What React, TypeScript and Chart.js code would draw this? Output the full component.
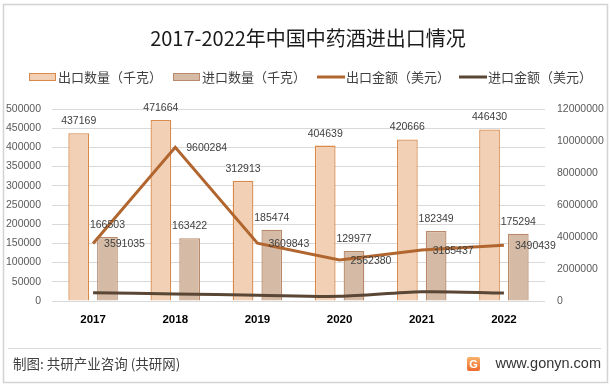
import React, { useEffect, useRef } from "react";
import { Chart, registerables } from "chart.js";

Chart.register(...registerables);

const categories = ["2017", "2018", "2019", "2020", "2021", "2022"];
const exportQty = [437169, 471664, 312913, 404639, 420666, 446430];
const importQty = [166503, 163422, 185474, 129977, 182349, 175294];
const exportValue = [3591035, 9600284, 3609843, 2562380, 3185437, 3490439];
const importValue = [520000, 440000, 360000, 290000, 580000, 500000];

const titleText = "2017-2022年中国中药酒进出口情况";
const legendLabels = ["出口数量（千克）", "进口数量（千克）", "出口金额（美元）", "进口金额（美元）"];
const footerLeft = "制图: 共研产业咨询 (共研网)";
const footerRight = "www.gonyn.com";

const C_EXP_FILL = "#F2D0B5";
const C_EXP_BORDER = "#D9894A";
const C_IMP_FILL = "#D5BBA5";
const C_IMP_BORDER = "#B8896A";
const C_EXP_LINE = "#B0662E";
const C_IMP_LINE = "#5A4634";

const CJK = '"Noto Sans CJK SC", "Noto Sans", sans-serif';
const NUM = '"Liberation Sans", Arial, sans-serif';

const decorPlugin = {
  id: "decor",
  beforeDraw(chart: any) {
    const ctx = chart.ctx;
    ctx.save();
    ctx.fillStyle = "#ffffff";
    ctx.fillRect(0, 0, chart.width, chart.height);
    ctx.restore();
  },
  afterDraw(chart: any) {
    const ctx = chart.ctx;
    ctx.save();
    ctx.strokeStyle = "#D3D3D3";
    ctx.lineWidth = 1.5;
    ctx.strokeRect(3.5, 4.5, 604, 378);
    ctx.fillStyle = "#1a1a1a";
    ctx.font = `20px ${CJK}`;
    ctx.textAlign = "center";
    ctx.textBaseline = "middle";
    ctx.fillText(titleText, 308, 38);
    const ly = 77;
    ctx.font = `13px ${CJK}`;
    ctx.textAlign = "left";
    const items = [
      { x: 29, kind: "bar", fill: C_EXP_FILL, border: C_EXP_BORDER },
      { x: 173, kind: "bar", fill: C_IMP_FILL, border: C_IMP_BORDER },
      { x: 317, kind: "line", color: C_EXP_LINE },
      { x: 459, kind: "line", color: C_IMP_LINE },
    ];
    items.forEach((it: any, i: number) => {
      if (it.kind === "bar") {
        ctx.fillStyle = it.fill;
        ctx.fillRect(it.x, ly - 4, 27, 8);
        ctx.strokeStyle = it.border;
        ctx.lineWidth = 1;
        ctx.strokeRect(it.x + 0.5, ly - 3.5, 26, 7);
      } else {
        ctx.strokeStyle = it.color;
        ctx.lineWidth = 3;
        ctx.beginPath();
        ctx.moveTo(it.x, ly);
        ctx.lineTo(it.x + 28, ly);
        ctx.stroke();
      }
      ctx.fillStyle = "#404040";
      ctx.fillText(legendLabels[i], it.x + 29, ly);
    });
    ctx.font = `10.5px ${NUM}`;
    ctx.fillStyle = "#404040";
    [0, 1].forEach((di) => {
      const meta = chart.getDatasetMeta(di);
      meta.data.forEach((el: any, j: number) => {
        const v = chart.data.datasets[di].data[j];
        ctx.textAlign = "center";
        ctx.textBaseline = "middle";
        ctx.fillText(String(v), el.x, el.y - 12);
      });
    });
    {
      const meta = chart.getDatasetMeta(2);
      meta.data.forEach((el: any, j: number) => {
        const v = chart.data.datasets[2].data[j];
        ctx.textAlign = "left";
        ctx.textBaseline = "middle";
        ctx.fillText(String(v), el.x + 11, el.y + 1);
      });
    }
    ctx.strokeStyle = "#D9D9D9";
    ctx.lineWidth = 1;
    ctx.beginPath();
    ctx.moveTo(8, 348.5);
    ctx.lineTo(601, 348.5);
    ctx.stroke();
    ctx.fillStyle = "#404040";
    ctx.font = `13.5px ${CJK}`;
    ctx.textAlign = "left";
    ctx.textBaseline = "middle";
    ctx.fillText(footerLeft, 13, 364);
    ctx.font = `14.5px ${NUM}`;
    ctx.textAlign = "right";
    ctx.fillStyle = "#333333";
    ctx.fillText(footerRight, 601, 364);
    const g = ctx.createLinearGradient(0, 357, 0, 371);
    g.addColorStop(0, "#F9B26A");
    g.addColorStop(1, "#EC6A2C");
    ctx.fillStyle = g;
    ctx.beginPath();
    ctx.roundRect(467, 357, 13, 14, 2);
    ctx.fill();
    ctx.fillStyle = "#ffffff";
    ctx.font = `bold 11px ${NUM}`;
    ctx.textAlign = "center";
    ctx.fillText("G", 473.5, 364.5);
    ctx.restore();
  },
};

export default function App() {
  const ref = useRef<HTMLCanvasElement | null>(null);
  useEffect(() => {
    document.body.style.margin = "0";
    if (!ref.current) return;
    const chart = new Chart(ref.current, {
      type: "bar",
      data: {
        labels: categories,
        datasets: [
          {
            type: "bar",
            label: legendLabels[0],
            data: exportQty,
            backgroundColor: C_EXP_FILL,
            borderColor: C_EXP_BORDER,
            borderWidth: 1.3,
            yAxisID: "y",
            order: 2,
            categoryPercentage: 0.7,
            barPercentage: 0.72,
          },
          {
            type: "bar",
            label: legendLabels[1],
            data: importQty,
            backgroundColor: C_IMP_FILL,
            borderColor: C_IMP_BORDER,
            borderWidth: 1.3,
            yAxisID: "y",
            order: 2,
            categoryPercentage: 0.7,
            barPercentage: 0.72,
          },
          {
            type: "line",
            label: legendLabels[2],
            data: exportValue,
            borderColor: C_EXP_LINE,
            borderWidth: 3,
            pointRadius: 0,
            tension: 0,
            yAxisID: "y1",
            order: 1,
          },
          {
            type: "line",
            label: legendLabels[3],
            data: importValue,
            borderColor: C_IMP_LINE,
            borderWidth: 3,
            pointRadius: 0,
            tension: 0.3,
            yAxisID: "y1",
            order: 1,
          },
        ] as any,
      },
      options: {
        responsive: false,
        animation: false,
        devicePixelRatio: 1,
        layout: { padding: { top: 109, left: 0, right: 0, bottom: 0 } },
        plugins: {
          legend: { display: false },
          title: { display: false },
          tooltip: { enabled: false },
        },
        scales: {
          x: {
            grid: { display: false, drawTicks: false },
            border: { display: false },
            ticks: {
              padding: 12,
              color: "#000000",
              font: { family: NUM, size: 11.5, weight: "bold" },
            },
            afterFit: (s: any) => {
              s.height = 85;
            },
          },
          y: {
            position: "left",
            min: 0,
            max: 500000,
            grid: { color: "#D9D9D9", drawTicks: false, lineWidth: 1 },
            border: { display: false },
            ticks: {
              stepSize: 50000,
              padding: 11,
              color: "#595959",
              font: { family: NUM, size: 10.5 },
              callback: (v: any) => String(v),
            },
            afterFit: (s: any) => {
              s.width = 52;
            },
          },
          y1: {
            position: "right",
            min: 0,
            max: 12000000,
            grid: { display: false, drawTicks: false },
            border: { display: false },
            ticks: {
              stepSize: 2000000,
              padding: 12,
              color: "#595959",
              font: { family: NUM, size: 10.5 },
              callback: (v: any) => String(v),
            },
            afterFit: (s: any) => {
              s.width = 66;
            },
          },
        },
      } as any,
      plugins: [decorPlugin],
    });
    return () => chart.destroy();
  }, []);
  return (
    <div style={{ width: 611, height: 386 }}>
      <canvas ref={ref} width={611} height={386} style={{ display: "block" }} />
    </div>
  );
}
